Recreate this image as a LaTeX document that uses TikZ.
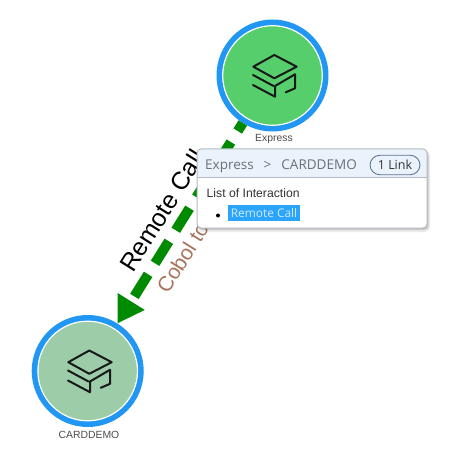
\documentclass[tikz,border=0pt]{standalone}
\usepackage{fontspec}
\setmainfont{Liberation Sans}
\newfontfamily\popfont{Open Sans}
\usetikzlibrary{arrows.meta}
\definecolor{ringblue}{HTML}{2196F3}
\definecolor{expgreen}{HTML}{57CE6C}
\definecolor{cardgreen}{HTML}{9CCCA8}
\definecolor{linkgreen}{HTML}{008A00}
\definecolor{cobol}{HTML}{A8735C}
\definecolor{headfill}{HTML}{EAF2FB}
\definecolor{popborder}{HTML}{B4BAC2}
\definecolor{poptext}{HTML}{6B7178}
\definecolor{hilite}{HTML}{2BA4FB}
\definecolor{hilitetext}{HTML}{CFEBFF}
\definecolor{pillborder}{HTML}{5F7796}
\tikzset{
  x=1bp,y=-1bp,
  app/.style={circle,draw=ringblue,line width=6bp,inner sep=0pt,minimum size=106bp},
  applabel/.style={font=\fontsize{10.4bp}{12bp}\selectfont,text=black!70,inner sep=0pt},
  iconline/.style={line width=2bp,line join=round,line cap=round,black!90},
  linkline/.style={draw=linkgreen,line width=10bp,dash pattern=on 26bp off 13bp,dash phase=16.5bp,
    -{Triangle[length=26bp,width=30bp,fill=linkgreen]}},
  poplabel/.style={inner sep=0pt,anchor=base west},
  edgelabel/.style={rotate=58,inner sep=0pt,anchor=base west},
}
\newcommand{\appicon}[1]{%
  \begin{scope}[shift={(#1)}]
    \draw[iconline] (-.7,-21) -- (21.7,-9.3) -- (-.7,2.3) -- (-21.7,-9.3) -- cycle;
    \draw[iconline] (-22,-1) -- (-1.5,10);
    \draw[iconline] (-22,9) -- (0,20.7) -- (0,10) -- (20,-1.7) -- (20,12.3) -- (10.7,16.3);
  \end{scope}}
\begin{document}
\begin{tikzpicture}
\useasboundingbox (0,0) rectangle (450,459);
\fill[white] (0,0) rectangle (450,459);
\node[app,fill=expgreen] (express) at (272.5,75.5) {};
\node[app,fill=cardgreen] (card) at (87.7,371) {};
\draw[white,line width=1.2bp] (express) circle (49.8bp);
\draw[white,line width=1.2bp] (card) circle (49.8bp);
\draw[linkline] (express) -- (card);
\appicon{275,76}
\appicon{90,371.5}
\node[applabel] (explabel) at (274,139) {Express};
\node[applabel] (cardlabel) at (89,435) {CARDDEMO};
\node[edgelabel,font=\fontsize{25bp}{27bp}\selectfont,text=black] (rc) at (133,274) {Remote Call};
\node[edgelabel,font=\fontsize{21bp}{24bp}\selectfont,text=cobol] (cb) at (168,295) {Cobol to};
% popup
\fill[black,opacity=.08,rounded corners=5bp] (197,151) rectangle (430,232);
\fill[black,opacity=.14,rounded corners=4bp] (198,151) rectangle (428.5,230);
\fill[white,rounded corners=4bp] (197,149) rectangle (427,228);
\begin{scope}
\clip[rounded corners=4bp] (197,149) rectangle (427,228);
\fill[headfill] (197,149) rectangle (427,178);
\end{scope}
\draw[popborder,line width=1bp,rounded corners=4bp] (197,149) rectangle (427,228);
\draw[popborder,line width=1bp] (197,178) -- (427,178);
\node[poplabel,text=poptext,font=\popfont\fontsize{13.5bp}{15bp}\selectfont] (title) at (205,170) {Express\hspace{10bp}>\hspace{10bp}CARDDEMO};
\node[draw=pillborder,line width=.9bp,rounded corners=10bp,minimum width=50bp,minimum height=19.5bp,inner sep=0pt,
  font=\popfont\fontsize{12.5bp}{14bp}\selectfont,text=black!80] (pill) at (395,165) {1 Link};
\node[poplabel,font=\fontsize{12.2bp}{14bp}\selectfont,text=black!80] (listtitle) at (206.5,198) {List of Interaction};
\fill[black] (218,215.5) circle (2bp);
\node[fill=hilite,text=hilitetext,font=\popfont\fontsize{11.9bp}{13bp}\selectfont,minimum width=72bp,minimum height=16bp,inner sep=0pt] (hl) at (264,213) {Remote Call};
\end{tikzpicture}
\end{document}
